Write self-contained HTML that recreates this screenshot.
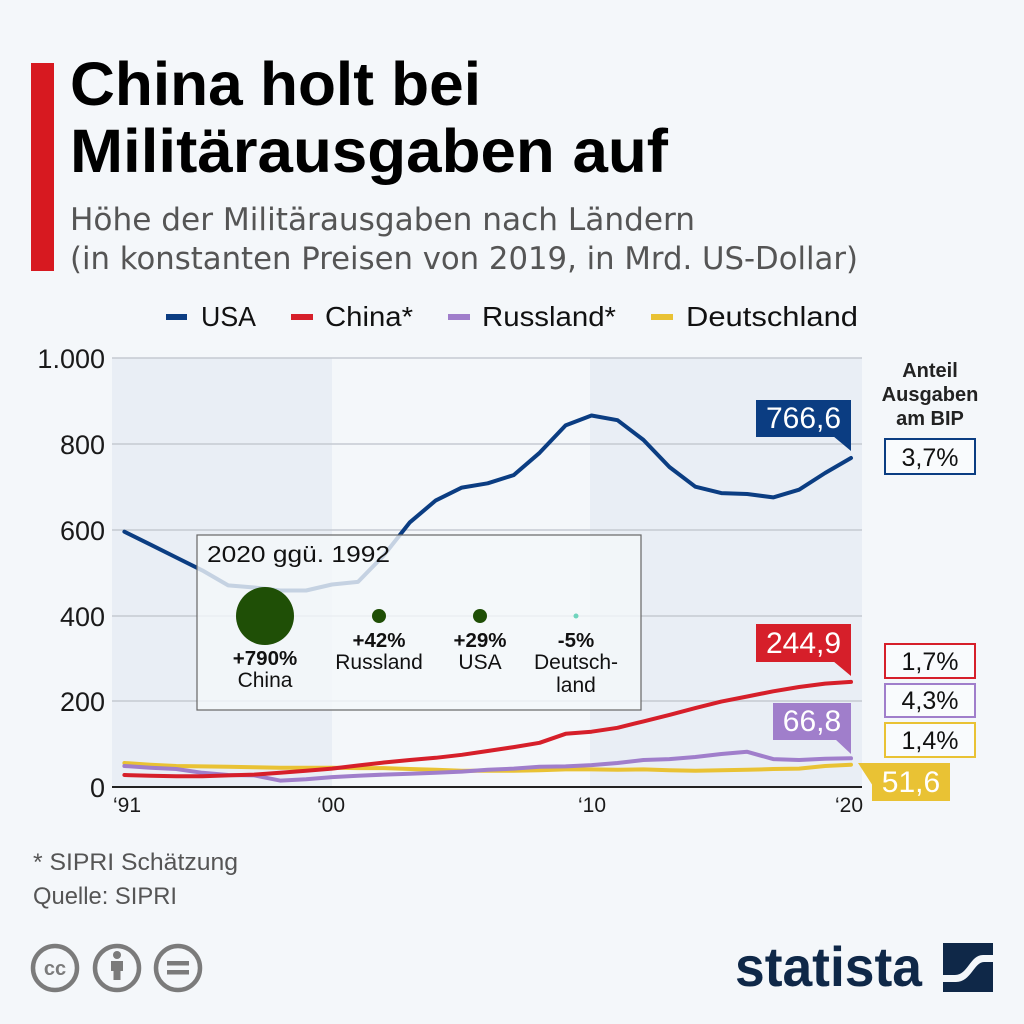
<!DOCTYPE html>
<html>
<head>
<meta charset="utf-8">
<style>
html,body{margin:0;padding:0;background:#f4f7fa;}
svg{display:block;}
</style>
</head>
<body>
<svg width="1024" height="1024" viewBox="0 0 1024 1024" xmlns="http://www.w3.org/2000/svg" font-family="'Liberation Sans', Arial, sans-serif">
<rect x="0" y="0" width="1024" height="1024" fill="#f4f7fa"/>

<!-- header -->
<rect x="31" y="63" width="23" height="208" fill="#d71920"/>
<text x="70" y="105" font-size="61" font-weight="bold" fill="#000" textLength="411" lengthAdjust="spacingAndGlyphs">China holt bei</text>
<text x="70" y="172" font-size="61" font-weight="bold" fill="#000" textLength="598" lengthAdjust="spacingAndGlyphs">Militärausgaben auf</text>
<text x="70" y="230" font-size="31" fill="#555" font-family="'DejaVu Sans', 'Liberation Sans', sans-serif" textLength="625" lengthAdjust="spacingAndGlyphs">Höhe der Militärausgaben nach Ländern</text>
<text x="70" y="269" font-size="31" fill="#555" font-family="'DejaVu Sans', 'Liberation Sans', sans-serif" textLength="788" lengthAdjust="spacingAndGlyphs">(in konstanten Preisen von 2019, in Mrd. US-Dollar)</text>

<!-- legend -->
<rect x="166" y="314" width="21" height="6" fill="#0b3d82"/>
<text x="201" y="326" font-size="28" fill="#111" textLength="55" lengthAdjust="spacingAndGlyphs">USA</text>
<rect x="291" y="314" width="22" height="6" fill="#d61f2a"/>
<text x="325" y="326" font-size="28" fill="#111" textLength="88" lengthAdjust="spacingAndGlyphs">China*</text>
<rect x="448" y="314" width="22" height="6" fill="#a07ecb"/>
<text x="482" y="326" font-size="28" fill="#111" textLength="134" lengthAdjust="spacingAndGlyphs">Russland*</text>
<rect x="651" y="314" width="22" height="6" fill="#e9c234"/>
<text x="686" y="326" font-size="28" fill="#111" textLength="172" lengthAdjust="spacingAndGlyphs">Deutschland</text>

<!-- plot background bands -->
<rect x="112" y="358" width="220" height="429" fill="#e9eef5"/>
<rect x="590" y="358" width="272" height="429" fill="#e9eef5"/>

<!-- gridlines -->
<g stroke="#c5cad2" stroke-width="1.5">
<line x1="112" y1="358" x2="862" y2="358"/>
<line x1="112" y1="444" x2="862" y2="444"/>
<line x1="112" y1="530" x2="862" y2="530"/>
<line x1="112" y1="616" x2="862" y2="616"/>
<line x1="112" y1="701" x2="862" y2="701"/>
</g>

<!-- y labels -->
<g font-size="27" fill="#1a1a1a" text-anchor="end">
<text x="105" y="368">1.000</text>
<text x="105" y="454">800</text>
<text x="105" y="540">600</text>
<text x="105" y="626">400</text>
<text x="105" y="711">200</text>
<text x="105" y="797">0</text>
</g>

<!-- series -->
<g fill="none" stroke-width="4" stroke-linejoin="round" stroke-linecap="round">
<polyline stroke="#e9c234" points="124.4,763.0 150.4,764.7 176.3,766.0 202.3,766.4 228.2,766.8 254.2,767.3 280.1,767.7 306.1,767.7 332,767.7 358,768.1 383.9,768.1 409.9,769.0 435.8,769.8 461.8,770.7 487.7,770.7 513.7,770.7 539.6,770.3 565.6,769.4 591.5,769.4 617.5,769.8 643.4,769.4 669.4,770.3 695.3,770.7 721.3,770.3 747.2,769.8 773.2,769.0 799.1,768.6 825.1,766.0 851,764.7"/>
<polyline stroke="#a07ecb" points="124.4,766.0 150.4,767.7 176.3,769.0 202.3,772.8 228.2,775.0 254.2,775.4 280.1,780.6 306.1,779.3 332,777.1 358,775.8 383.9,774.6 409.9,773.7 435.8,772.8 461.8,771.6 487.7,769.8 513.7,768.6 539.6,766.8 565.6,766.4 591.5,765.1 617.5,763.0 643.4,760.0 669.4,759.1 695.3,757.0 721.3,754.0 747.2,751.8 773.2,759.1 799.1,760.0 825.1,758.7 851,758.3"/>
<polyline stroke="#d61f2a" points="124.4,775.0 150.4,775.8 176.3,776.3 202.3,776.3 228.2,775.4 254.2,774.6 280.1,772.8 306.1,770.7 332,768.6 358,765.5 383.9,762.5 409.9,760.0 435.8,757.8 461.8,754.8 487.7,751.0 513.7,747.1 539.6,742.8 565.6,733.8 591.5,731.7 617.5,727.8 643.4,721.4 669.4,714.9 695.3,708.1 721.3,701.6 747.2,696.5 773.2,691.3 799.1,687.0 825.1,683.6 851,681.9"/>
<polyline stroke="#0b3d82" points="124.4,531.7 150.4,544.6 176.3,557.5 202.3,570.4 228.2,585.4 254.2,587.5 280.1,590.5 306.1,590.5 332,584.5 358,581.9 383.9,555.3 409.9,522.3 435.8,500.4 461.8,487.6 487.7,483.3 513.7,475.1 539.6,452.8 565.6,425.4 591.5,415.5 617.5,420.2 643.4,439.9 669.4,467.0 695.3,486.7 721.3,493.1 747.2,494.0 773.2,497.4 799.1,489.7 825.1,473.0 851,458.0"/>
</g>

<!-- axis -->
<line x1="112" y1="787" x2="862" y2="787" stroke="#222" stroke-width="2"/>
<g font-size="21" fill="#1a1a1a">
<text x="113" y="812">‘91</text>
<text x="331" y="812" text-anchor="middle">‘00</text>
<text x="592" y="812" text-anchor="middle">‘10</text>
<text x="863" y="812" text-anchor="end">‘20</text>
</g>

<!-- callout box -->
<rect x="197" y="535" width="444" height="175" fill="#f4f7fa" fill-opacity="0.8" stroke="#666" stroke-width="1.2"/>
<text x="207" y="562" font-size="23" fill="#111" textLength="183" lengthAdjust="spacingAndGlyphs">2020 ggü. 1992</text>
<circle cx="265" cy="616" r="29" fill="#1f4f06"/>
<circle cx="379" cy="616" r="7" fill="#1f4f06"/>
<circle cx="480" cy="616" r="7" fill="#1f4f06"/>
<circle cx="576" cy="616" r="2.5" fill="#6fd4bd"/>
<g font-size="20" fill="#111" text-anchor="middle">
<text x="265" y="665" font-weight="bold" font-size="20.5">+790%</text>
<text x="265" y="687" font-size="21">China</text>
<text x="379" y="647" font-weight="bold" font-size="20.5">+42%</text>
<text x="379" y="669" font-size="21">Russland</text>
<text x="480" y="647" font-weight="bold" font-size="20.5">+29%</text>
<text x="480" y="669" font-size="21">USA</text>
<text x="576" y="647" font-weight="bold" font-size="20.5">-5%</text>
<text x="576" y="669" font-size="21">Deutsch-</text>
<text x="576" y="692" font-size="21">land</text>
</g>

<!-- value labels -->
<rect x="756" y="400" width="95" height="37" fill="#0b3d82"/>
<polygon points="833,436 851,436 851,451" fill="#0b3d82"/>
<text x="803.5" y="428" font-size="30" fill="#fff" text-anchor="middle">766,6</text>

<rect x="756" y="624" width="95" height="38" fill="#d61f2a"/>
<polygon points="833,661 851,661 851,676" fill="#d61f2a"/>
<text x="803.5" y="653" font-size="30" fill="#fff" text-anchor="middle">244,9</text>

<rect x="773" y="703" width="78" height="37" fill="#a07ecb"/>
<polygon points="835,739 851,739 851,754" fill="#a07ecb"/>
<text x="812" y="731" font-size="30" fill="#fff" text-anchor="middle">66,8</text>

<rect x="872" y="763" width="78" height="38" fill="#e9c234"/>
<polygon points="858,763 873,763 873,786" fill="#e9c234"/>
<text x="911" y="792" font-size="30" fill="#fff" text-anchor="middle">51,6</text>

<!-- right side share -->
<g font-size="20" font-weight="bold" fill="#222" text-anchor="middle">
<text x="930" y="377">Anteil</text>
<text x="930" y="401">Ausgaben</text>
<text x="930" y="425">am BIP</text>
</g>
<g font-size="25" fill="#111" text-anchor="middle">
<rect x="885" y="439" width="90" height="35" fill="#f9fbfd" stroke="#0b3d82" stroke-width="2"/>
<text x="930" y="466">3,7%</text>
<rect x="885" y="644" width="90" height="34" fill="#f9fbfd" stroke="#d61f2a" stroke-width="2"/>
<text x="930" y="670">1,7%</text>
<rect x="885" y="684" width="90" height="33" fill="#f9fbfd" stroke="#a07ecb" stroke-width="2"/>
<text x="930" y="709">4,3%</text>
<rect x="885" y="723" width="90" height="34" fill="#f9fbfd" stroke="#e9c234" stroke-width="2"/>
<text x="930" y="749">1,4%</text>
</g>

<!-- footer -->
<text x="33" y="870" font-size="24" fill="#555" textLength="205" lengthAdjust="spacingAndGlyphs">* SIPRI Schätzung</text>
<text x="33" y="904" font-size="24" fill="#555" textLength="144" lengthAdjust="spacingAndGlyphs">Quelle: SIPRI</text>

<g stroke="#7b7b7b" stroke-width="4.5" fill="none">
<circle cx="55" cy="968" r="22"/>
<circle cx="117" cy="968" r="22"/>
<circle cx="178" cy="968" r="22"/>
</g>
<text x="55" y="975" font-size="20" font-weight="bold" fill="#7b7b7b" text-anchor="middle">cc</text>
<circle cx="117" cy="955" r="4" fill="#7b7b7b"/>
<rect x="111" y="961" width="12" height="10" fill="#7b7b7b"/>
<rect x="113.5" y="970" width="7" height="10" fill="#7b7b7b"/>
<rect x="167" y="961" width="22" height="4.5" fill="#7b7b7b"/>
<rect x="167" y="970" width="22" height="4.5" fill="#7b7b7b"/>

<!-- statista logo -->
<text x="735" y="986" font-size="56" font-weight="bold" fill="#0f2848" textLength="187" lengthAdjust="spacingAndGlyphs">statista</text>
<rect x="943" y="943" width="50" height="49" fill="#0f2848"/>
<path d="M943,975 L955,975 C968,975 970,955 983,955 L993,955 L993,962 L984,962 C974,962 971,982 956,982 L943,982 Z" fill="#f4f7fa"/>
</svg>
</body>
</html>
